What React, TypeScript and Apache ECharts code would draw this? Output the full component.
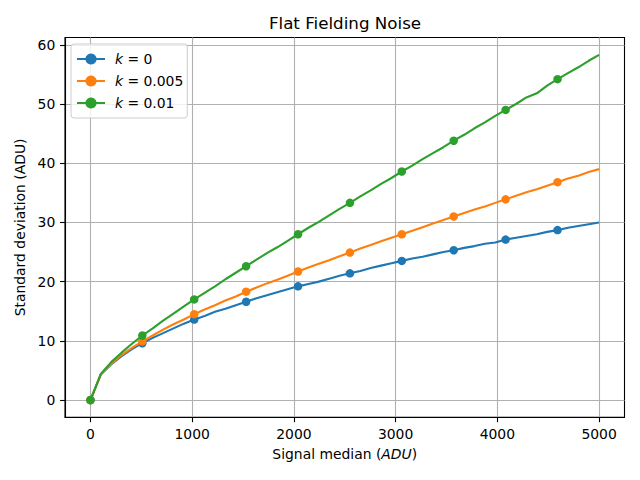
import React, { useEffect, useRef } from "react";
import * as echarts from "echarts";

const signal = [0, 102.0, 204.1, 306.1, 408.2, 510.2, 612.2, 714.3, 816.3, 918.4, 1020.4, 1122.4, 1224.5, 1326.5, 1428.6, 1530.6, 1632.7, 1734.7, 1836.7, 1938.8, 2040.8, 2142.9, 2244.9, 2346.9, 2449.0, 2551.0, 2653.1, 2755.1, 2857.1, 2959.2, 3061.2, 3163.3, 3265.3, 3367.3, 3469.4, 3571.4, 3673.5, 3775.5, 3877.6, 3979.6, 4081.6, 4183.7, 4285.7, 4387.8, 4489.8, 4591.8, 4693.9, 4795.9, 4898.0, 5000];

const sigmaK0 = [0, 4.3, 6.0, 7.4, 8.6, 9.6, 10.5, 11.3, 12.1, 12.9, 13.6, 14.2, 14.9, 15.4, 16.0, 16.6, 17.2, 17.7, 18.2, 18.7, 19.2, 19.6, 20.0, 20.5, 21.0, 21.4, 21.8, 22.3, 22.7, 23.1, 23.5, 23.9, 24.2, 24.6, 25.0, 25.3, 25.7, 26.0, 26.4, 26.6, 27.1, 27.4, 27.7, 28.0, 28.4, 28.7, 29.1, 29.4, 29.7, 30.0];

const sigmaK005 = [0, 4.3, 6.1, 7.6, 8.8, 9.9, 10.9, 11.9, 12.8, 13.6, 14.5, 15.3, 16.0, 16.8, 17.5, 18.3, 19.0, 19.7, 20.3, 21.0, 21.7, 22.4, 23.0, 23.6, 24.3, 24.9, 25.6, 26.2, 26.8, 27.4, 28.0, 28.6, 29.2, 29.8, 30.4, 31.0, 31.6, 32.2, 32.7, 33.3, 33.9, 34.5, 35.1, 35.6, 36.2, 36.8, 37.4, 37.9, 38.5, 39.0];

const sigmaK01 = [0, 4.4, 6.4, 8.0, 9.5, 10.9, 12.1, 13.4, 14.6, 15.8, 17.0, 18.1, 19.2, 20.4, 21.5, 22.6, 23.7, 24.8, 25.8, 26.9, 28.0, 29.1, 30.1, 31.2, 32.3, 33.3, 34.4, 35.4, 36.5, 37.5, 38.6, 39.6, 40.7, 41.7, 42.7, 43.8, 44.8, 45.9, 46.9, 48.0, 49.0, 50.0, 51.1, 51.8, 53.1, 54.2, 55.2, 56.2, 57.3, 58.3];

const seriesNames = ["k0", "k005", "k01"];
const legendLabels = ["{i|k} = 0", "{i|k} = 0.005", "{i|k} = 0.01"];
const colors = ["#1f77b4", "#ff7f0e", "#2ca02c"];
const xTicks = [0, 1000, 2000, 3000, 4000, 5000];
const yTicks = [0, 10, 20, 30, 40, 50, 60];
const markEvery = 5;

const FONT = "DejaVu Sans";

export default function App() {
  const ref = useRef<HTMLDivElement>(null);
  useEffect(() => {
    if (!ref.current) return;
    const chart = echarts.init(ref.current, null, { renderer: "svg" });
    const allSeries = [sigmaK0, sigmaK005, sigmaK01];
    const series = allSeries.map((vals, si) => ({
      name: seriesNames[si],
      type: "line",
      symbol: "circle",
      symbolSize: 8.5,
      showAllSymbol: true,
      lineStyle: { width: 2.1, color: colors[si] },
      itemStyle: { color: colors[si] },
      z: 3 + si,
      data: vals.map((v, i) =>
        i % markEvery === 0
          ? { value: [signal[i], v] }
          : { value: [signal[i], v], symbol: "none" }
      ),
    }));
    const axisCommon = {
      axisLine: { show: true, onZero: false, lineStyle: { color: "#000", width: 1.1 } },
      axisTick: { show: true, length: 4.9, lineStyle: { color: "#000", width: 1.1 } },
      splitLine: { show: true, lineStyle: { color: "#b0b0b0", width: 1.1 } },
    };
    chart.setOption({
      animation: false,
      backgroundColor: "#fff",
      textStyle: { fontFamily: FONT },
      grid: {
        left: 65,
        right: 15.5,
        top: 37.5,
        bottom: 62.7,
        show: true,
        borderColor: "#000",
        borderWidth: 1.1,
        backgroundColor: "transparent",
      },
      graphic: [
        {
          type: "text",
          x: 345,
          y: 23,
          style: {
            text: "Flat Fielding Noise",
            font: `16.7px ${FONT}`,
            fill: "#000",
            align: "center",
            verticalAlign: "middle",
          },
        },
      ],
      legend: {
        orient: "vertical",
        left: 71,
        top: 44,
        padding: [8, 4, 8, 5],
        itemGap: 8,
        itemWidth: 28,
        itemHeight: 14,
        backgroundColor: "rgba(255,255,255,0.8)",
        borderColor: "#cccccc",
        borderWidth: 1,
        borderRadius: 3,
        data: seriesNames,
        formatter: (name: string) => legendLabels[seriesNames.indexOf(name)],
        textStyle: {
          fontFamily: FONT,
          fontSize: 13.9,
          color: "#000",
          padding: [0, 0, 0, 5],
          rich: {
            i: { fontStyle: "italic", fontFamily: FONT, fontSize: 13.9, color: "#000" },
          },
        },
      },
      xAxis: {
        type: "value",
        min: -250,
        max: 5250,
        ...axisCommon,
        axisTick: { ...axisCommon.axisTick, customValues: xTicks },
        axisLabel: {
          customValues: xTicks,
          formatter: (v: number) => String(v),
          margin: 9.7,
          fontSize: 13.9,
          fontFamily: FONT,
          color: "#000",
        },
        name: "Signal median ({i|ADU})",
        nameLocation: "middle",
        nameGap: 30,
        nameTextStyle: {
          fontSize: 13.9,
          fontFamily: FONT,
          color: "#000",
          rich: { i: { fontStyle: "italic", fontSize: 13.9, fontFamily: FONT, color: "#000" } },
        },
      },
      yAxis: {
        type: "value",
        min: -2.9155,
        max: 61.2305,
        ...axisCommon,
        axisTick: { ...axisCommon.axisTick, customValues: yTicks },
        axisLabel: {
          customValues: yTicks,
          formatter: (v: number) => String(v),
          margin: 9.7,
          fontSize: 13.9,
          fontFamily: FONT,
          color: "#000",
        },
        name: "Standard deviation (ADU)",
        nameLocation: "middle",
        nameGap: 32,
        nameTextStyle: { fontSize: 13.9, fontFamily: FONT, color: "#000" },
      },
      series,
    });
    return () => chart.dispose();
  }, []);
  return <div ref={ref} style={{ width: 640, height: 480, position: "absolute", left: 0, top: 0 }} />;
}
